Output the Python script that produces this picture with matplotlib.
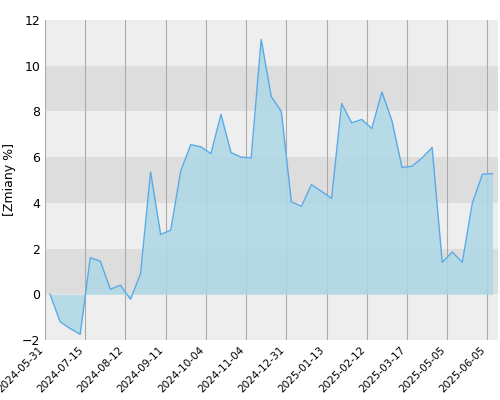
import matplotlib
matplotlib.use("Agg")
import matplotlib.pyplot as plt
import numpy as np

values = [0, -1.2, -1.5, -1.75, 1.6, 1.45, 0.22, 0.4, -0.22, 0.9, 5.35, 2.62, 2.8, 5.4, 6.55,
          6.45, 6.15, 7.87, 6.2, 6.0, 5.97, 11.15, 8.65, 8.0, 4.05, 3.85, 4.8, 4.5, 4.2, 8.35,
          7.5, 7.65, 7.25, 8.85, 7.6, 5.55, 5.6, 5.97, 6.42, 1.4, 1.85, 1.4, 4.0, 5.25, 5.28]
tick_labels = ["2024-05-31", "2024-07-15", "2024-08-12", "2024-09-11", "2024-10-04", "2024-11-04",
               "2024-12-31", "2025-01-13", "2025-02-12", "2025-03-17", "2025-05-05", "2025-06-05"]

x = np.arange(len(values))
fig = plt.figure(figsize=(5, 4), dpi=100)
ax = fig.add_axes([0.09, 0.15, 0.905, 0.8])
for i, lo in enumerate(range(-2, 12, 2)):
    ax.axhspan(lo, lo + 2, color="#dddddd" if i % 2 == 1 else "#eeeeee", zorder=0, lw=0)
ticks = np.arange(-0.5, 44, 4)
for t in ticks:
    ax.axvline(t, color="#aaaaaa", lw=0.8, zorder=1)
ax.fill_between(x, values, 0, color="#add8e6", alpha=0.85, zorder=2, lw=0)
ax.plot(x, values, color="#5aaae8", lw=1, zorder=3)
ax.set_xlim(-0.5, 44.5)
ax.set_ylim(-2, 12)
ax.set_yticks(range(-2, 13, 2))
ax.set_xticks(ticks)
ax.set_xticklabels(tick_labels, rotation=45, ha="right", fontsize=7.5)
ax.tick_params(axis="y", labelsize=9, length=0)
ax.tick_params(axis="x", length=0)
ax.set_ylabel("[Zmiany %]", fontsize=9)
for s in ax.spines.values():
    s.set_visible(False)
fig.savefig("out.png")
